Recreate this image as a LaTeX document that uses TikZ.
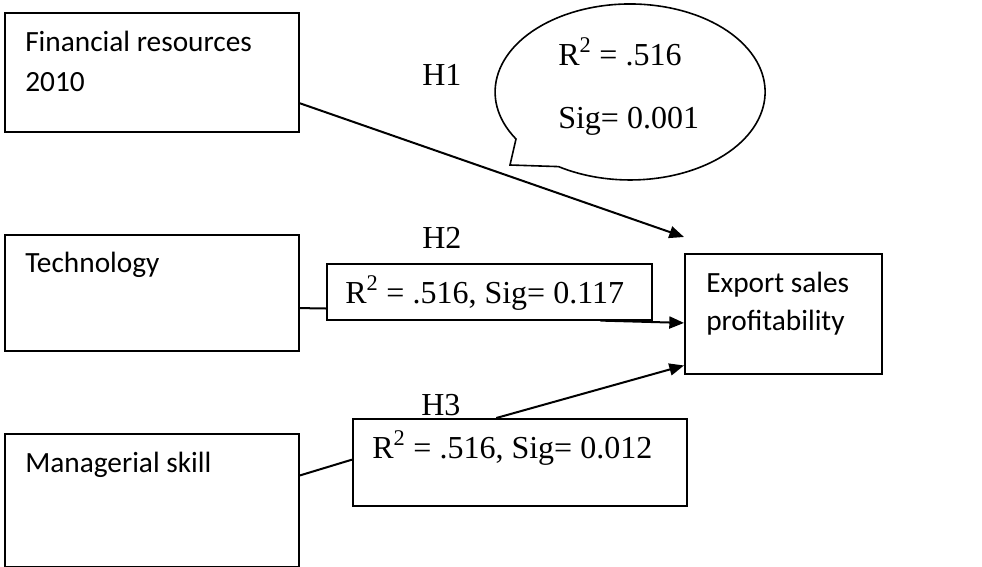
\documentclass[tikz,border=0pt]{standalone}
\usepackage{fontspec}
\setmainfont{Liberation Serif}
\newfontfamily\calfont{Carlito}
\usetikzlibrary{arrows.meta,calc}
\begin{document}
\begin{tikzpicture}[x=0.75pt,y=-0.75pt,
  box/.style={draw,line width=1.2pt,inner sep=0pt,anchor=north west},
  lbl/.style={inner sep=0pt,anchor=base west},
  sans/.style={lbl,font=\calfont\fontsize{22}{26}\selectfont},
  serif/.style={lbl,font=\fontsize{24}{28}\selectfont},
  conn/.style={line width=1.5pt},
  arr/.style={conn,-{Triangle[length=11pt,width=9pt]}}]
\useasboundingbox (0,0) rectangle (982,567);
% boxes
\node[box,minimum width=220.5pt,minimum height=89.25pt] (fin) at (4,12) {};
\node[box,minimum width=220.5pt,minimum height=87pt] (tech) at (4,234) {};
\node[box,minimum width=220.5pt,minimum height=99.75pt] (man) at (4,433) {};
\node[box,minimum width=147.75pt,minimum height=90pt] (exp) at (684,253) {};
\node[box,minimum width=243.75pt,minimum height=42pt] (h2box) at (326,263) {};
\node[box,minimum width=250.5pt,minimum height=65.25pt] (h3box) at (352,418) {};
% callout
\draw[line width=1.2pt,fill=white] (510,165) -- (516,139)
  arc[start angle=212.3, end angle=-122, x radius=101.25pt, y radius=66pt] -- cycle;
% connectors
\draw[arr] ($(fin.north east)!0.756!(fin.south east)$) -- ($(exp.north west)+(0,-16)$);
\draw[conn] ($(tech.north east)!0.63!(tech.south east)$) -- ($(h2box.north west)!0.79!(h2box.south west)$);
\draw[arr] ($(h2box.south west)!0.84!(h2box.south east)$) -- ($(exp.north west)!0.575!(exp.south west)$);
\draw[conn] ($(man.north east)!0.316!(man.south east)$) -- ($(h3box.north west)!0.47!(h3box.south west)$);
\draw[arr] ($(h3box.north west)!0.43!(h3box.north east)$) -- ($(exp.north west)!0.925!(exp.south west)$);
% texts
\node[sans] (tfin1) at (25,52) {Financial resources};
\node[sans] (tfin2) at (25,92) {2010};
\node[sans] (ttech) at (25,272) {Technology};
\node[sans] (tman) at (25,472) {Managerial skill};
\node[sans] (texp1) at (706,292) {Export sales};
\node[sans] (texp2) at (706,330) {profitability};
\node[serif] (h1) at (422,86) {H1};
\node[serif] (h2) at (422,248) {H2};
\node[serif] (h3) at (421,415) {H3};
\node[serif] (r1) at (558,65) {R\textsuperscript{2} = .516};
\node[serif] (s1) at (558,128) {Sig= 0.001};
\node[serif] (r2) at (345,303) {R\textsuperscript{2} = .516, Sig= 0.117};
\node[serif] (r3) at (372,458) {R\textsuperscript{2} = .516, Sig= 0.012};
\end{tikzpicture}
\end{document}
